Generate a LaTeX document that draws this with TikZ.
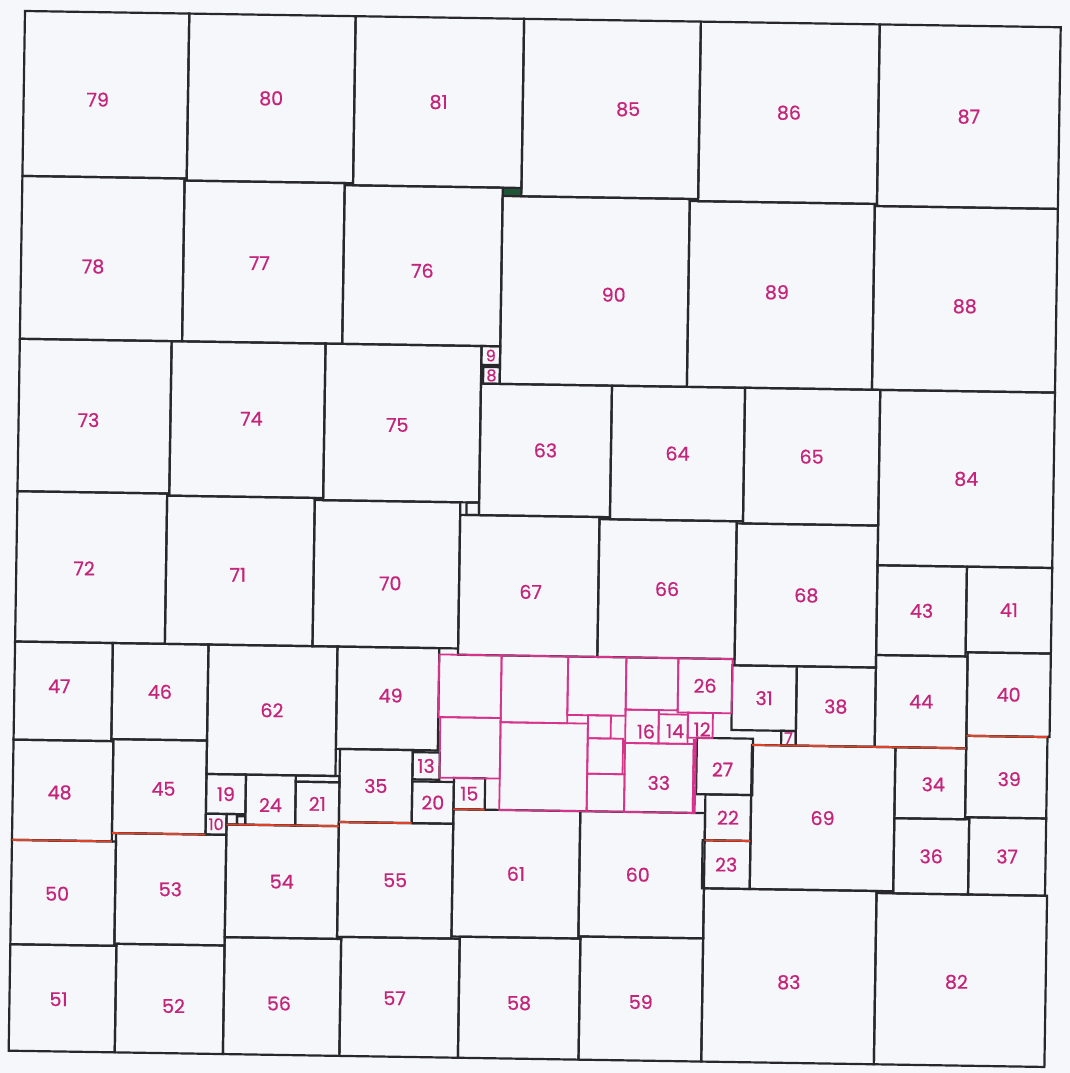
\documentclass[tikz,border=0pt]{standalone}
\usepackage{fontspec}
\setmainfont{Poppins}
\newfontfamily\labfont{Poppins}[FakeBold=0.7]
\definecolor{bg}{RGB}{246,247,251}
\definecolor{lnk}{RGB}{40,40,44}
\definecolor{pk}{RGB}{214,52,140}
\definecolor{lab}{RGB}{196,36,122}
\definecolor{rd}{RGB}{224,66,40}
\definecolor{dg}{RGB}{30,85,55}
\tikzset{
  blk/.style={draw=lnk, line width=2.2pt},
  pnk/.style={draw=pk, line width=1.8pt},
  redl/.style={draw=rd, line width=1.8pt},
  lbl/.style={text=lab, font=\labfont\fontsize{19}{21}\selectfont, inner sep=0pt},
  slbl/.style={lbl, font=\labfont\fontsize{16}{18}\selectfont},
}
% square with label = size; optional label offset in px via \Sqo
\newcommand\Sq[4][blk]{\draw[#1] (#2,#3) rectangle ++(#4,#4);
  \node[lbl] (n#4) at ({#2+#4/2},{#3+#4/2}) {#4};}
\newcommand\Sqo[6][blk]{\draw[#1] (#2,#3) rectangle ++(#4,#4);
  \node[lbl] (n#4) at ({#2+#4/2+#5/2.08},{#3+#4/2+#6/2.088}) {#4};}
\newcommand\Ssq[4][blk]{\draw[#1] (#2,#3) rectangle ++(#4,#4);
  \node[slbl] (n#4) at ({#2+#4/2},{#3+#4/2}) {#4};}
\newcommand\Usq[4][pnk]{\draw[#1] (#2,#3) rectangle ++(#4,#4);}
\begin{document}
\begin{tikzpicture}[x=1pt,y=1pt]
\fill[bg] (0,0) rectangle (1070,-1073);
\useasboundingbox (0,0) rectangle (1070,-1073);
\begin{scope}[shift={(25,-11)}, rotate=-0.9, x=2.08pt, y=-2.088pt]
% dark fills (holes)
\fill[dg] (231,81) rectangle (240,85);
\fill[lnk] (222,166) rectangle (231,167);
% black squares
\Sqo{0}{0}{79}{-8}{5}\Sq{79}{0}{80}\Sq{159}{0}{81}\Sqo{240}{0}{85}{17}{0}\Sq{325}{0}{86}\Sq{411}{0}{87}
\Sqo{0}{79}{78}{-9}{8}\Sqo{78}{80}{77}{-4}{1}\Sqo{155}{81}{76}{0}{5}\Sqo{231}{85}{90}{19}{3}\Sqo{321}{86}{89}{-4}{-3}\Sqo{410}{87}{88}{0}{7}
\Ssq{222}{157}{9}\Ssq{223}{167}{8}
\Sqo{0}{157}{73}{-6}{4}\Sqo{73}{157}{74}{4}{-1}\Sqo{147}{157}{75}{-5}{2}
\Sq{222}{175}{63}\Sq{285}{175}{64}\Sq{349}{175}{65}\Sq{414}{175}{84}
\Sqo{0}{230}{72}{-7}{1}\Sqo{72}{231}{71}{-2}{4}\Sqo{143}{232}{70}{4}{9}\Usq[blk]{216}{232}{6}
\Sqo{213}{238}{67}{2}{6}\Sq{280}{239}{66}\Sq{346}{240}{68}
\Sq{414}{259}{43}\Sq{457}{259}{41}
\Sqo{0}{302}{47}{-4}{-5}\Sq{47}{302}{46}\Sq{93}{302}{62}\Sqo{155}{302}{49}{3}{-3}
\Sq{414}{302}{44}\Sq{458}{300}{40}
\Sq{345}{308}{31}\Sq{376}{308}{38}\Ssq{369}{339}{7}
\Sqo{0}{349}{48}{-3}{2}\Sqo{48}{348}{45}{4}{2}
\Sq{93}{364}{19}\Ssq{93}{383}{10}\Usq[blk]{103}{383}{5}\Usq[blk]{108}{384}{4}
\Sqo{112}{364}{24}{0}{5}\Sq{136}{367}{21}
\draw[blk] (136,364) rectangle (157,367);
\Sq{157}{351}{35}\Sq{192}{352}{13}\Sq{192}{366}{20}\Sq{212}{364}{15}
\Sqo{328.5}{343}{27}{-2}{3}\Sq{333}{370}{22}\Sq{332}{392}{23}
\Sq{355}{346}{69}\Sqo{424}{346}{34}{3}{1}\Sqo{458}{340}{39}{3}{2}
\Sq{424}{380}{36}\Sq{460}{379}{37}
\Sqo{0}{397}{50}{-6}{1}\Sq{50}{393}{53}\Sq{103}{388}{54}\Sq{157}{386}{55}
\Sq{212}{379}{61}\Sqo{273}{379}{60}{-4}{0}
\Sqo{333}{415}{83}{0}{6}\Sqo{416}{416}{82}{-4}{2}
\Sqo{0}{447}{51}{-4}{1}\Sqo{51}{446}{52}{4}{7}\Sqo{103}{442}{56}{-3}{7}\Sqo{159}{441}{57}{-5}{1}\Sqo{216}{440}{58}{0}{5}\Sqo{274}{439}{59}{0}{3}
% pink cluster
\Usq{204}{305}{30}\Usq{205}{335}{29}
\Usq{234}{305}{32}\Usq{234}{337}{42}
\Usq{266}{305}{28}\Usq{294}{305}{25}
\Sq[pnk]{319}{305}{26}
\Usq{276}{333}{11}\Usq{276}{344}{17}\Usq{276}{361}{18}
\Sqo[pnk]{294}{330}{16}{4}{5}\Sqo[pnk]{310}{332}{14}{2}{2}\Sqo[pnk]{324}{331}{12}{2}{4}
\Sqo[pnk]{294}{346}{33}{0}{5}
\draw[pnk] (327,344) rectangle (328,379);
% red fault lines
\draw[redl] (0,397) -- (48,397);
\draw[redl] (48,393) -- (93,393);
\draw[redl] (103,388) -- (157,388);
\draw[redl] (157,386) -- (192,386);
\draw[redl] (212,379) -- (227,379);
\draw[redl] (333,392) -- (355,392);
\draw[redl] (355,346) -- (458,346);
\draw[redl] (458,340) -- (497,340);
\end{scope}
\end{tikzpicture}
\end{document}
